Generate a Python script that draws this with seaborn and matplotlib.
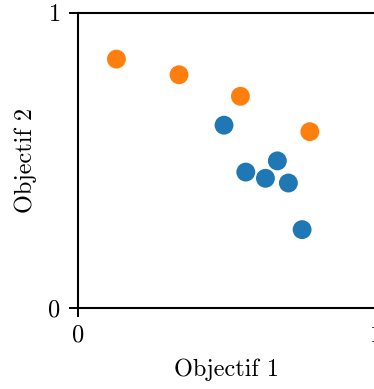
import matplotlib
matplotlib.use("Agg")
import matplotlib.pyplot as plt
import seaborn as sns
import pandas as pd

# Solutions in objective space
obj1_a = [0.490, 0.669, 0.563, 0.629, 0.706, 0.752]
obj2_a = [0.618, 0.497, 0.459, 0.438, 0.422, 0.264]
obj1_b = [0.129, 0.339, 0.545, 0.778]
obj2_b = [0.842, 0.789, 0.716, 0.596]
group_names = ["A", "B"]
colors = ["#1f77b4", "#ff7f0e"]
ticks = [0, 1]
tick_labels = ["0", "1"]

df = pd.DataFrame({
    "Objectif 1": obj1_a + obj1_b,
    "Objectif 2": obj2_a + obj2_b,
    "groupe": [group_names[0]] * len(obj1_a) + [group_names[1]] * len(obj1_b),
})

sns.set_style("white")
plt.rcParams["font.family"] = ["cmr10", "DejaVu Serif"]
plt.rcParams["axes.unicode_minus"] = False

fig = plt.figure(figsize=(3.74, 3.89), dpi=100)
ax = fig.add_axes([78 / 374, (389 - 307.5) / 389, 298 / 374, 295 / 389])

sns.scatterplot(data=df, x="Objectif 1", y="Objectif 2", hue="groupe",
                palette=colors, s=185, linewidth=0, legend=False, ax=ax,
                zorder=3)

ax.set_xlim(0, 1)
ax.set_ylim(0, 1)
ax.set_xticks(ticks)
ax.set_xticklabels(tick_labels)
ax.set_yticks(ticks)
ax.set_yticklabels(tick_labels)
ax.tick_params(axis="both", direction="out", length=6.5, width=1.4,
               labelsize=17.5, pad=6, color="black", labelcolor="black",
               bottom=True, left=True)
ax.set_xlabel("Objectif 1", fontsize=17.5, labelpad=8, color="black")
ax.set_ylabel("Objectif 2", fontsize=17.5, labelpad=8, color="black")
for side in ["left", "bottom", "top", "right"]:
    ax.spines[side].set_visible(True)
    ax.spines[side].set_color("black")
    ax.spines[side].set_linewidth(1.5)

fig.savefig("out.png", dpi=100)
